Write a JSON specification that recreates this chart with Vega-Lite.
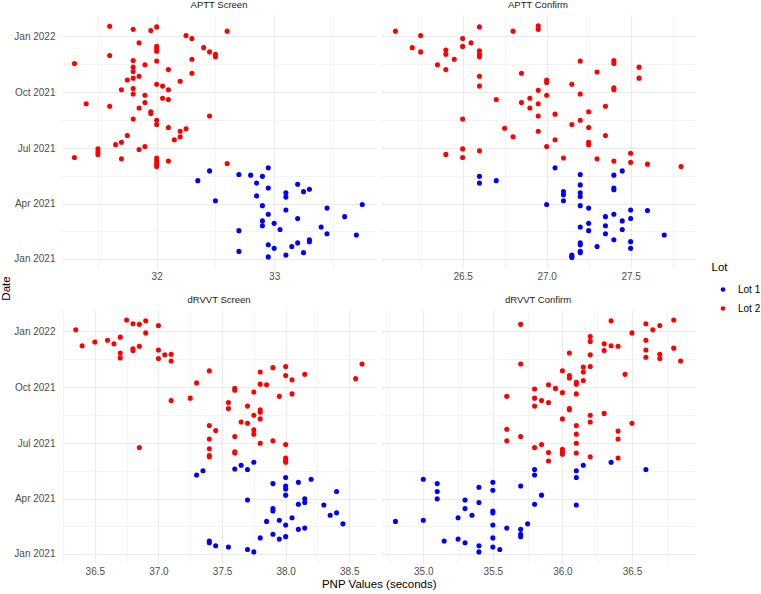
{
  "$schema": "https://vega.github.io/schema/vega-lite/v6.json",
  "padding": {"left": 0, "top": 0, "right": 0, "bottom": 0},
  "background": "white",
  "datasets": {
    "aptt_screen": [
      {"lot":"Lot 2","date":"2022-01-17","pnp":31.6},{"lot":"Lot 2","date":"2022-01-12","pnp":31.8},{"lot":"Lot 2","date":"2022-01-10","pnp":31.95},
      {"lot":"Lot 2","date":"2022-01-16","pnp":32.0},{"lot":"Lot 2","date":"2022-01-09","pnp":32.6},{"lot":"Lot 2","date":"2022-01-02","pnp":32.25},
      {"lot":"Lot 2","date":"2021-12-28","pnp":32.3},{"lot":"Lot 2","date":"2021-12-21","pnp":31.85},{"lot":"Lot 2","date":"2021-12-15","pnp":32.0},
      {"lot":"Lot 2","date":"2021-12-11","pnp":32.0},{"lot":"Lot 2","date":"2021-12-07","pnp":32.0},{"lot":"Lot 2","date":"2021-12-13","pnp":32.4},
      {"lot":"Lot 2","date":"2021-12-06","pnp":32.45},{"lot":"Lot 2","date":"2021-12-02","pnp":32.5},{"lot":"Lot 2","date":"2021-11-28","pnp":32.5},
      {"lot":"Lot 2","date":"2021-11-30","pnp":31.6},{"lot":"Lot 2","date":"2021-11-17","pnp":31.3},{"lot":"Lot 2","date":"2021-11-22","pnp":31.8},
      {"lot":"Lot 2","date":"2021-11-11","pnp":31.8},{"lot":"Lot 2","date":"2021-11-04","pnp":31.8},{"lot":"Lot 2","date":"2021-10-24","pnp":31.8},
      {"lot":"Lot 2","date":"2021-11-15","pnp":31.9},{"lot":"Lot 2","date":"2021-11-21","pnp":32.0},{"lot":"Lot 2","date":"2021-11-07","pnp":32.1},
      {"lot":"Lot 2","date":"2021-11-24","pnp":32.3},{"lot":"Lot 2","date":"2021-11-01","pnp":32.3},{"lot":"Lot 2","date":"2021-10-27","pnp":31.85},
      {"lot":"Lot 2","date":"2021-10-21","pnp":31.75},{"lot":"Lot 2","date":"2021-10-19","pnp":32.2},{"lot":"Lot 2","date":"2021-10-14","pnp":32.0},
      {"lot":"Lot 2","date":"2021-10-11","pnp":32.05},{"lot":"Lot 2","date":"2021-10-05","pnp":32.1},{"lot":"Lot 2","date":"2021-10-05","pnp":31.7},
      {"lot":"Lot 2","date":"2021-10-07","pnp":31.8},{"lot":"Lot 2","date":"2021-09-28","pnp":31.8},{"lot":"Lot 2","date":"2021-09-26","pnp":31.9},
      {"lot":"Lot 2","date":"2021-09-21","pnp":32.05},{"lot":"Lot 2","date":"2021-09-19","pnp":32.1},{"lot":"Lot 2","date":"2021-09-12","pnp":31.4},
      {"lot":"Lot 2","date":"2021-09-08","pnp":31.6},{"lot":"Lot 2","date":"2021-09-05","pnp":31.85},{"lot":"Lot 2","date":"2021-09-14","pnp":31.9},
      {"lot":"Lot 2","date":"2021-08-30","pnp":31.95},{"lot":"Lot 2","date":"2021-08-27","pnp":31.95},{"lot":"Lot 2","date":"2021-08-18","pnp":31.8},
      {"lot":"Lot 2","date":"2021-08-16","pnp":32.0},{"lot":"Lot 2","date":"2021-08-09","pnp":32.0},{"lot":"Lot 2","date":"2021-08-23","pnp":32.45},
      {"lot":"Lot 2","date":"2021-08-04","pnp":32.1},{"lot":"Lot 2","date":"2021-08-02","pnp":32.25},{"lot":"Lot 2","date":"2021-07-29","pnp":32.2},
      {"lot":"Lot 2","date":"2021-07-20","pnp":32.2},{"lot":"Lot 2","date":"2021-07-15","pnp":32.15},{"lot":"Lot 2","date":"2021-07-22","pnp":31.75},
      {"lot":"Lot 2","date":"2021-07-11","pnp":31.7},{"lot":"Lot 2","date":"2021-07-07","pnp":31.65},{"lot":"Lot 2","date":"2021-07-04","pnp":31.9},
      {"lot":"Lot 2","date":"2021-06-29","pnp":31.85},{"lot":"Lot 2","date":"2021-06-30","pnp":31.5},{"lot":"Lot 2","date":"2021-06-25","pnp":31.5},
      {"lot":"Lot 2","date":"2021-06-21","pnp":31.5},{"lot":"Lot 2","date":"2021-06-16","pnp":31.3},{"lot":"Lot 2","date":"2021-06-14","pnp":31.7},
      {"lot":"Lot 2","date":"2021-06-15","pnp":32.0},{"lot":"Lot 2","date":"2021-06-10","pnp":32.0},{"lot":"Lot 2","date":"2021-06-05","pnp":32.0},
      {"lot":"Lot 2","date":"2021-06-01","pnp":32.0},{"lot":"Lot 2","date":"2021-06-10","pnp":32.1},{"lot":"Lot 2","date":"2021-06-06","pnp":32.6},
      {"lot":"Lot 1","date":"2021-05-30","pnp":32.95},{"lot":"Lot 1","date":"2021-05-19","pnp":32.7},{"lot":"Lot 1","date":"2021-05-18","pnp":32.8},
      {"lot":"Lot 1","date":"2021-05-16","pnp":32.9},{"lot":"Lot 1","date":"2021-05-25","pnp":32.45},{"lot":"Lot 1","date":"2021-05-09","pnp":32.35},
      {"lot":"Lot 1","date":"2021-05-05","pnp":32.85},{"lot":"Lot 1","date":"2021-04-27","pnp":32.95},{"lot":"Lot 1","date":"2021-05-03","pnp":33.2},
      {"lot":"Lot 1","date":"2021-04-25","pnp":33.3},{"lot":"Lot 1","date":"2021-04-21","pnp":33.25},{"lot":"Lot 1","date":"2021-04-19","pnp":33.1},
      {"lot":"Lot 1","date":"2021-04-12","pnp":33.1},{"lot":"Lot 1","date":"2021-04-14","pnp":32.85},{"lot":"Lot 1","date":"2021-04-06","pnp":32.5},
      {"lot":"Lot 1","date":"2021-03-29","pnp":32.9},{"lot":"Lot 1","date":"2021-03-31","pnp":33.75},{"lot":"Lot 1","date":"2021-03-25","pnp":33.45},
      {"lot":"Lot 1","date":"2021-03-22","pnp":33.1},{"lot":"Lot 1","date":"2021-03-15","pnp":32.95},{"lot":"Lot 1","date":"2021-03-11","pnp":33.6},
      {"lot":"Lot 1","date":"2021-03-08","pnp":33.2},{"lot":"Lot 1","date":"2021-03-04","pnp":32.9},{"lot":"Lot 1","date":"2021-02-28","pnp":33.0},
      {"lot":"Lot 1","date":"2021-02-24","pnp":32.9},{"lot":"Lot 1","date":"2021-02-18","pnp":33.05},{"lot":"Lot 1","date":"2021-02-16","pnp":32.7},
      {"lot":"Lot 1","date":"2021-02-22","pnp":33.4},{"lot":"Lot 1","date":"2021-02-11","pnp":33.45},{"lot":"Lot 1","date":"2021-02-09","pnp":33.7},
      {"lot":"Lot 1","date":"2021-02-01","pnp":33.3},{"lot":"Lot 1","date":"2021-01-29","pnp":33.3},{"lot":"Lot 1","date":"2021-01-27","pnp":33.2},
      {"lot":"Lot 1","date":"2021-01-21","pnp":33.15},{"lot":"Lot 1","date":"2021-01-24","pnp":32.95},{"lot":"Lot 1","date":"2021-01-18","pnp":33.0},
      {"lot":"Lot 1","date":"2021-01-13","pnp":32.7},{"lot":"Lot 1","date":"2021-01-11","pnp":33.25},{"lot":"Lot 1","date":"2021-01-07","pnp":33.1},
      {"lot":"Lot 1","date":"2021-01-04","pnp":32.95}
    ],
    "aptt_confirm": [
      {"lot":"Lot 2","date":"2022-01-09","pnp":26.1},{"lot":"Lot 2","date":"2022-01-02","pnp":26.25},{"lot":"Lot 2","date":"2022-01-16","pnp":26.6},
      {"lot":"Lot 2","date":"2022-01-09","pnp":26.8},{"lot":"Lot 2","date":"2022-01-18","pnp":26.95},{"lot":"Lot 2","date":"2022-01-12","pnp":26.95},
      {"lot":"Lot 2","date":"2021-12-28","pnp":26.5},{"lot":"Lot 2","date":"2021-12-21","pnp":26.55},{"lot":"Lot 2","date":"2021-12-15","pnp":26.5},
      {"lot":"Lot 2","date":"2021-12-13","pnp":26.2},{"lot":"Lot 2","date":"2021-12-06","pnp":26.25},{"lot":"Lot 2","date":"2021-12-09","pnp":26.4},
      {"lot":"Lot 2","date":"2021-12-02","pnp":26.4},{"lot":"Lot 2","date":"2021-12-08","pnp":26.6},{"lot":"Lot 2","date":"2021-12-02","pnp":26.6},
      {"lot":"Lot 2","date":"2021-11-28","pnp":26.6},{"lot":"Lot 2","date":"2021-11-24","pnp":26.45},{"lot":"Lot 2","date":"2021-11-15","pnp":26.35},
      {"lot":"Lot 2","date":"2021-11-07","pnp":26.4},{"lot":"Lot 2","date":"2021-11-21","pnp":27.2},{"lot":"Lot 2","date":"2021-11-22","pnp":27.4},
      {"lot":"Lot 2","date":"2021-11-17","pnp":27.4},{"lot":"Lot 2","date":"2021-11-11","pnp":27.55},{"lot":"Lot 2","date":"2021-11-03","pnp":27.3},
      {"lot":"Lot 2","date":"2021-11-01","pnp":26.85},{"lot":"Lot 2","date":"2021-10-27","pnp":26.6},{"lot":"Lot 2","date":"2021-10-21","pnp":27.0},
      {"lot":"Lot 2","date":"2021-10-17","pnp":27.0},{"lot":"Lot 2","date":"2021-10-24","pnp":27.55},{"lot":"Lot 2","date":"2021-10-14","pnp":27.15},
      {"lot":"Lot 2","date":"2021-10-11","pnp":26.6},{"lot":"Lot 2","date":"2021-10-08","pnp":27.4},{"lot":"Lot 2","date":"2021-10-05","pnp":27.4},
      {"lot":"Lot 2","date":"2021-10-04","pnp":26.95},{"lot":"Lot 2","date":"2021-09-28","pnp":27.2},{"lot":"Lot 2","date":"2021-09-26","pnp":27.0},
      {"lot":"Lot 2","date":"2021-09-19","pnp":26.7},{"lot":"Lot 2","date":"2021-09-21","pnp":26.9},{"lot":"Lot 2","date":"2021-09-14","pnp":26.85},
      {"lot":"Lot 2","date":"2021-09-12","pnp":26.95},{"lot":"Lot 2","date":"2021-09-05","pnp":26.9},{"lot":"Lot 2","date":"2021-09-08","pnp":27.35},
      {"lot":"Lot 2","date":"2021-08-30","pnp":27.25},{"lot":"Lot 2","date":"2021-08-26","pnp":27.05},{"lot":"Lot 2","date":"2021-08-23","pnp":26.95},
      {"lot":"Lot 2","date":"2021-08-18","pnp":26.5},{"lot":"Lot 2","date":"2021-08-16","pnp":27.2},{"lot":"Lot 2","date":"2021-08-09","pnp":27.15},
      {"lot":"Lot 2","date":"2021-08-04","pnp":27.25},{"lot":"Lot 2","date":"2021-08-03","pnp":26.75},{"lot":"Lot 2","date":"2021-07-29","pnp":26.95},
      {"lot":"Lot 2","date":"2021-07-20","pnp":26.8},{"lot":"Lot 2","date":"2021-07-22","pnp":27.35},{"lot":"Lot 2","date":"2021-07-15","pnp":27.05},
      {"lot":"Lot 2","date":"2021-07-11","pnp":27.25},{"lot":"Lot 2","date":"2021-07-07","pnp":27.25},{"lot":"Lot 2","date":"2021-07-04","pnp":27.0},
      {"lot":"Lot 2","date":"2021-06-30","pnp":26.5},{"lot":"Lot 2","date":"2021-06-27","pnp":26.6},{"lot":"Lot 2","date":"2021-06-21","pnp":26.4},
      {"lot":"Lot 2","date":"2021-06-16","pnp":26.5},{"lot":"Lot 2","date":"2021-06-15","pnp":27.1},{"lot":"Lot 2","date":"2021-06-14","pnp":27.3},
      {"lot":"Lot 2","date":"2021-06-23","pnp":27.5},{"lot":"Lot 2","date":"2021-06-10","pnp":27.4},{"lot":"Lot 2","date":"2021-06-08","pnp":27.5},
      {"lot":"Lot 2","date":"2021-06-05","pnp":27.6},{"lot":"Lot 2","date":"2021-06-01","pnp":27.8},
      {"lot":"Lot 1","date":"2021-05-30","pnp":27.05},{"lot":"Lot 1","date":"2021-05-16","pnp":26.6},{"lot":"Lot 1","date":"2021-05-05","pnp":26.6},
      {"lot":"Lot 1","date":"2021-05-09","pnp":26.7},{"lot":"Lot 1","date":"2021-05-19","pnp":27.2},{"lot":"Lot 1","date":"2021-05-18","pnp":27.4},
      {"lot":"Lot 1","date":"2021-05-25","pnp":27.45},{"lot":"Lot 1","date":"2021-05-02","pnp":27.2},{"lot":"Lot 1","date":"2021-04-27","pnp":27.4},
      {"lot":"Lot 1","date":"2021-04-24","pnp":27.4},{"lot":"Lot 1","date":"2021-04-21","pnp":27.1},{"lot":"Lot 1","date":"2021-04-16","pnp":27.1},
      {"lot":"Lot 1","date":"2021-04-06","pnp":27.1},{"lot":"Lot 1","date":"2021-04-19","pnp":27.2},{"lot":"Lot 1","date":"2021-04-13","pnp":27.2},
      {"lot":"Lot 1","date":"2021-03-31","pnp":27.0},{"lot":"Lot 1","date":"2021-03-29","pnp":27.2},{"lot":"Lot 1","date":"2021-03-25","pnp":27.25},
      {"lot":"Lot 1","date":"2021-03-22","pnp":27.5},{"lot":"Lot 1","date":"2021-03-21","pnp":27.6},{"lot":"Lot 1","date":"2021-03-15","pnp":27.4},
      {"lot":"Lot 1","date":"2021-03-11","pnp":27.35},{"lot":"Lot 1","date":"2021-03-08","pnp":27.5},{"lot":"Lot 1","date":"2021-03-04","pnp":27.45},
      {"lot":"Lot 1","date":"2021-02-28","pnp":27.25},{"lot":"Lot 1","date":"2021-02-22","pnp":27.2},{"lot":"Lot 1","date":"2021-02-24","pnp":27.35},
      {"lot":"Lot 1","date":"2021-02-16","pnp":27.25},{"lot":"Lot 1","date":"2021-02-18","pnp":27.45},{"lot":"Lot 1","date":"2021-02-11","pnp":27.35},
      {"lot":"Lot 1","date":"2021-02-09","pnp":27.7},{"lot":"Lot 1","date":"2021-02-01","pnp":27.4},{"lot":"Lot 1","date":"2021-01-29","pnp":27.5},
      {"lot":"Lot 1","date":"2021-01-27","pnp":27.2},{"lot":"Lot 1","date":"2021-01-24","pnp":27.2},{"lot":"Lot 1","date":"2021-01-21","pnp":27.3},
      {"lot":"Lot 1","date":"2021-01-18","pnp":27.5},{"lot":"Lot 1","date":"2021-01-13","pnp":27.2},{"lot":"Lot 1","date":"2021-01-11","pnp":27.2},
      {"lot":"Lot 1","date":"2021-01-07","pnp":27.15},{"lot":"Lot 1","date":"2021-01-05","pnp":27.15},{"lot":"Lot 1","date":"2021-01-03","pnp":27.15}
    ],
    "drvvt_screen": [
      {"lot":"Lot 2","date":"2022-01-03","pnp":36.35},{"lot":"Lot 2","date":"2021-12-08","pnp":36.4},{"lot":"Lot 2","date":"2021-12-14","pnp":36.5},
      {"lot":"Lot 2","date":"2021-12-17","pnp":36.6},{"lot":"Lot 2","date":"2021-12-11","pnp":36.65},{"lot":"Lot 2","date":"2021-12-22","pnp":36.7},
      {"lot":"Lot 2","date":"2022-01-19","pnp":36.75},{"lot":"Lot 2","date":"2022-01-13","pnp":36.8},{"lot":"Lot 2","date":"2022-01-12","pnp":36.85},
      {"lot":"Lot 2","date":"2022-01-18","pnp":36.9},{"lot":"Lot 2","date":"2021-12-29","pnp":36.9},{"lot":"Lot 2","date":"2022-01-10","pnp":37.0},
      {"lot":"Lot 2","date":"2021-12-07","pnp":36.85},{"lot":"Lot 2","date":"2021-12-03","pnp":36.8},{"lot":"Lot 2","date":"2021-11-30","pnp":36.8},
      {"lot":"Lot 2","date":"2021-11-26","pnp":36.7},{"lot":"Lot 2","date":"2021-11-18","pnp":36.7},{"lot":"Lot 2","date":"2021-12-01","pnp":37.0},
      {"lot":"Lot 2","date":"2021-11-17","pnp":37.0},{"lot":"Lot 2","date":"2021-11-23","pnp":37.05},{"lot":"Lot 2","date":"2021-11-24","pnp":37.1},
      {"lot":"Lot 2","date":"2021-11-13","pnp":37.1},{"lot":"Lot 2","date":"2021-10-28","pnp":37.4},{"lot":"Lot 2","date":"2021-10-08","pnp":37.3},
      {"lot":"Lot 2","date":"2021-09-09","pnp":37.1},{"lot":"Lot 2","date":"2021-09-13","pnp":37.25},{"lot":"Lot 2","date":"2021-09-29","pnp":37.6},
      {"lot":"Lot 2","date":"2021-09-26","pnp":37.6},{"lot":"Lot 2","date":"2021-09-06","pnp":37.55},{"lot":"Lot 2","date":"2021-08-27","pnp":37.55},
      {"lot":"Lot 2","date":"2021-08-31","pnp":37.7},{"lot":"Lot 2","date":"2021-09-23","pnp":37.75},{"lot":"Lot 2","date":"2021-10-26","pnp":37.8},
      {"lot":"Lot 2","date":"2021-10-06","pnp":37.8},{"lot":"Lot 2","date":"2021-10-05","pnp":37.85},{"lot":"Lot 2","date":"2021-11-02","pnp":37.9},
      {"lot":"Lot 2","date":"2021-11-04","pnp":38.0},{"lot":"Lot 2","date":"2021-10-20","pnp":38.0},{"lot":"Lot 2","date":"2021-10-13","pnp":38.05},
      {"lot":"Lot 2","date":"2021-10-22","pnp":38.15},{"lot":"Lot 2","date":"2021-09-16","pnp":37.95},{"lot":"Lot 2","date":"2021-09-20","pnp":38.05},
      {"lot":"Lot 2","date":"2021-10-15","pnp":38.55},{"lot":"Lot 2","date":"2021-11-08","pnp":38.6},{"lot":"Lot 2","date":"2021-08-25","pnp":37.8},
      {"lot":"Lot 2","date":"2021-08-21","pnp":37.8},{"lot":"Lot 2","date":"2021-08-10","pnp":37.8},{"lot":"Lot 2","date":"2021-08-16","pnp":37.75},
      {"lot":"Lot 2","date":"2021-08-05","pnp":37.65},{"lot":"Lot 2","date":"2021-08-03","pnp":37.7},{"lot":"Lot 2","date":"2021-07-23","pnp":37.75},
      {"lot":"Lot 2","date":"2021-07-16","pnp":37.75},{"lot":"Lot 2","date":"2021-07-30","pnp":37.4},{"lot":"Lot 2","date":"2021-07-22","pnp":37.45},
      {"lot":"Lot 2","date":"2021-07-12","pnp":37.6},{"lot":"Lot 2","date":"2021-07-08","pnp":37.4},{"lot":"Lot 2","date":"2021-06-22","pnp":37.4},
      {"lot":"Lot 2","date":"2021-06-11","pnp":37.4},{"lot":"Lot 2","date":"2021-06-09","pnp":37.4},{"lot":"Lot 2","date":"2021-06-17","pnp":37.6},
      {"lot":"Lot 2","date":"2021-06-15","pnp":37.6},{"lot":"Lot 2","date":"2021-07-01","pnp":37.8},{"lot":"Lot 2","date":"2021-07-05","pnp":37.9},
      {"lot":"Lot 2","date":"2021-06-29","pnp":38.0},{"lot":"Lot 2","date":"2021-06-07","pnp":38.0},{"lot":"Lot 2","date":"2021-06-03","pnp":38.0},
      {"lot":"Lot 2","date":"2021-05-31","pnp":38.0},{"lot":"Lot 2","date":"2021-06-24","pnp":36.85},
      {"lot":"Lot 1","date":"2021-05-31","pnp":37.75},{"lot":"Lot 1","date":"2021-05-26","pnp":37.65},{"lot":"Lot 1","date":"2021-05-20","pnp":37.6},
      {"lot":"Lot 1","date":"2021-05-19","pnp":37.7},{"lot":"Lot 1","date":"2021-05-17","pnp":37.35},{"lot":"Lot 1","date":"2021-05-10","pnp":37.3},
      {"lot":"Lot 1","date":"2021-05-06","pnp":38.0},{"lot":"Lot 1","date":"2021-05-03","pnp":38.2},{"lot":"Lot 1","date":"2021-04-28","pnp":38.1},
      {"lot":"Lot 1","date":"2021-04-26","pnp":37.9},{"lot":"Lot 1","date":"2021-04-22","pnp":38.0},{"lot":"Lot 1","date":"2021-04-17","pnp":38.0},
      {"lot":"Lot 1","date":"2021-04-07","pnp":38.0},{"lot":"Lot 1","date":"2021-04-13","pnp":38.4},{"lot":"Lot 1","date":"2021-03-30","pnp":37.7},
      {"lot":"Lot 1","date":"2021-04-01","pnp":38.15},{"lot":"Lot 1","date":"2021-03-26","pnp":38.15},{"lot":"Lot 1","date":"2021-03-23","pnp":38.1},
      {"lot":"Lot 1","date":"2021-03-22","pnp":38.3},{"lot":"Lot 1","date":"2021-03-16","pnp":37.9},{"lot":"Lot 1","date":"2021-03-12","pnp":37.9},
      {"lot":"Lot 1","date":"2021-03-05","pnp":38.35},{"lot":"Lot 1","date":"2021-03-09","pnp":38.4},{"lot":"Lot 1","date":"2021-03-01","pnp":38.05},
      {"lot":"Lot 1","date":"2021-02-25","pnp":37.95},{"lot":"Lot 1","date":"2021-02-23","pnp":37.85},{"lot":"Lot 1","date":"2021-02-19","pnp":38.45},
      {"lot":"Lot 1","date":"2021-02-17","pnp":38.0},{"lot":"Lot 1","date":"2021-02-12","pnp":38.15},{"lot":"Lot 1","date":"2021-02-10","pnp":38.1},
      {"lot":"Lot 1","date":"2021-02-02","pnp":37.9},{"lot":"Lot 1","date":"2021-01-29","pnp":38.0},{"lot":"Lot 1","date":"2021-01-25","pnp":37.95},
      {"lot":"Lot 1","date":"2021-01-27","pnp":37.8},{"lot":"Lot 1","date":"2021-01-22","pnp":37.4},{"lot":"Lot 1","date":"2021-01-19","pnp":37.4},
      {"lot":"Lot 1","date":"2021-01-14","pnp":37.45},{"lot":"Lot 1","date":"2021-01-12","pnp":37.55},{"lot":"Lot 1","date":"2021-01-08","pnp":37.7},
      {"lot":"Lot 1","date":"2021-01-04","pnp":37.75}
    ],
    "drvvt_confirm": [
      {"lot":"Lot 2","date":"2022-01-12","pnp":35.7},{"lot":"Lot 2","date":"2022-01-18","pnp":36.35},{"lot":"Lot 2","date":"2022-01-13","pnp":36.6},
      {"lot":"Lot 2","date":"2022-01-03","pnp":36.65},{"lot":"Lot 2","date":"2022-01-10","pnp":36.7},{"lot":"Lot 2","date":"2022-01-19","pnp":36.8},
      {"lot":"Lot 2","date":"2021-12-29","pnp":36.5},{"lot":"Lot 2","date":"2021-12-23","pnp":36.2},{"lot":"Lot 2","date":"2021-12-15","pnp":36.2},
      {"lot":"Lot 2","date":"2021-12-11","pnp":36.3},{"lot":"Lot 2","date":"2021-11-30","pnp":36.3},{"lot":"Lot 2","date":"2021-12-08","pnp":36.35},
      {"lot":"Lot 2","date":"2021-12-07","pnp":36.4},{"lot":"Lot 2","date":"2021-12-17","pnp":36.6},{"lot":"Lot 2","date":"2021-12-01","pnp":36.6},
      {"lot":"Lot 2","date":"2021-11-19","pnp":36.6},{"lot":"Lot 2","date":"2021-11-24","pnp":36.7},{"lot":"Lot 2","date":"2021-11-17","pnp":36.7},
      {"lot":"Lot 2","date":"2021-12-04","pnp":36.8},{"lot":"Lot 2","date":"2021-11-13","pnp":36.85},{"lot":"Lot 2","date":"2021-11-26","pnp":36.05},
      {"lot":"Lot 2","date":"2021-11-23","pnp":36.2},{"lot":"Lot 2","date":"2021-11-03","pnp":36.15},{"lot":"Lot 2","date":"2021-10-26","pnp":36.15},
      {"lot":"Lot 2","date":"2021-11-04","pnp":36.2},{"lot":"Lot 2","date":"2021-10-12","pnp":36.15},{"lot":"Lot 2","date":"2021-10-22","pnp":36.45},
      {"lot":"Lot 2","date":"2021-11-08","pnp":35.7},{"lot":"Lot 2","date":"2021-10-28","pnp":36.0},{"lot":"Lot 2","date":"2021-10-20","pnp":36.05},
      {"lot":"Lot 2","date":"2021-10-16","pnp":36.05},{"lot":"Lot 2","date":"2021-10-09","pnp":36.1},{"lot":"Lot 2","date":"2021-10-06","pnp":36.1},
      {"lot":"Lot 2","date":"2021-10-05","pnp":35.9},{"lot":"Lot 2","date":"2021-09-29","pnp":35.95},{"lot":"Lot 2","date":"2021-09-28","pnp":35.8},
      {"lot":"Lot 2","date":"2021-09-22","pnp":36.0},{"lot":"Lot 2","date":"2021-09-20","pnp":36.1},{"lot":"Lot 2","date":"2021-09-16","pnp":35.6},
      {"lot":"Lot 2","date":"2021-09-13","pnp":35.8},{"lot":"Lot 2","date":"2021-09-09","pnp":35.85},{"lot":"Lot 2","date":"2021-09-06","pnp":35.9},
      {"lot":"Lot 2","date":"2021-08-31","pnp":35.8},{"lot":"Lot 2","date":"2021-08-27","pnp":36.05},{"lot":"Lot 2","date":"2021-08-25","pnp":36.05},
      {"lot":"Lot 2","date":"2021-08-19","pnp":36.3},{"lot":"Lot 2","date":"2021-08-16","pnp":36.2},{"lot":"Lot 2","date":"2021-08-10","pnp":36.0},
      {"lot":"Lot 2","date":"2021-08-05","pnp":36.2},{"lot":"Lot 2","date":"2021-08-03","pnp":36.5},{"lot":"Lot 2","date":"2021-07-30","pnp":36.1},
      {"lot":"Lot 2","date":"2021-07-21","pnp":36.4},{"lot":"Lot 2","date":"2021-07-08","pnp":36.4},{"lot":"Lot 2","date":"2021-07-24","pnp":35.6},
      {"lot":"Lot 2","date":"2021-07-12","pnp":35.7},{"lot":"Lot 2","date":"2021-07-05","pnp":35.6},{"lot":"Lot 2","date":"2021-07-16","pnp":36.1},
      {"lot":"Lot 2","date":"2021-07-01","pnp":36.1},{"lot":"Lot 2","date":"2021-06-29","pnp":35.85},{"lot":"Lot 2","date":"2021-06-24","pnp":35.8},
      {"lot":"Lot 2","date":"2021-06-21","pnp":36.0},{"lot":"Lot 2","date":"2021-06-17","pnp":36.0},{"lot":"Lot 2","date":"2021-06-13","pnp":36.0},
      {"lot":"Lot 2","date":"2021-06-16","pnp":35.9},{"lot":"Lot 2","date":"2021-06-02","pnp":35.9},{"lot":"Lot 2","date":"2021-06-15","pnp":36.1},
      {"lot":"Lot 2","date":"2021-06-09","pnp":36.2},{"lot":"Lot 2","date":"2021-06-07","pnp":36.4},
      {"lot":"Lot 1","date":"2021-05-31","pnp":36.35},{"lot":"Lot 1","date":"2021-05-19","pnp":36.6},{"lot":"Lot 1","date":"2021-05-26","pnp":36.15},
      {"lot":"Lot 1","date":"2021-05-17","pnp":36.1},{"lot":"Lot 1","date":"2021-05-06","pnp":36.1},{"lot":"Lot 1","date":"2021-05-19","pnp":35.8},
      {"lot":"Lot 1","date":"2021-05-10","pnp":35.8},{"lot":"Lot 1","date":"2021-04-07","pnp":35.85},{"lot":"Lot 1","date":"2021-03-23","pnp":35.8},
      {"lot":"Lot 1","date":"2021-03-22","pnp":36.1},{"lot":"Lot 1","date":"2021-04-22","pnp":35.7},{"lot":"Lot 1","date":"2021-04-28","pnp":35.5},
      {"lot":"Lot 1","date":"2021-04-15","pnp":35.5},{"lot":"Lot 1","date":"2021-04-20","pnp":35.4},{"lot":"Lot 1","date":"2021-05-03","pnp":35.0},
      {"lot":"Lot 1","date":"2021-04-26","pnp":35.1},{"lot":"Lot 1","date":"2021-04-13","pnp":35.1},{"lot":"Lot 1","date":"2021-04-01","pnp":35.1},
      {"lot":"Lot 1","date":"2021-03-30","pnp":35.3},{"lot":"Lot 1","date":"2021-03-26","pnp":35.4},{"lot":"Lot 1","date":"2021-03-16","pnp":35.3},
      {"lot":"Lot 1","date":"2021-03-12","pnp":35.5},{"lot":"Lot 1","date":"2021-03-09","pnp":35.5},{"lot":"Lot 1","date":"2021-03-05","pnp":35.35},
      {"lot":"Lot 1","date":"2021-03-01","pnp":35.25},{"lot":"Lot 1","date":"2021-02-23","pnp":34.8},{"lot":"Lot 1","date":"2021-02-25","pnp":35.0},
      {"lot":"Lot 1","date":"2021-02-19","pnp":35.75},{"lot":"Lot 1","date":"2021-02-17","pnp":35.5},{"lot":"Lot 1","date":"2021-02-12","pnp":35.6},
      {"lot":"Lot 1","date":"2021-02-10","pnp":35.7},{"lot":"Lot 1","date":"2021-02-02","pnp":35.7},{"lot":"Lot 1","date":"2021-01-29","pnp":35.7},
      {"lot":"Lot 1","date":"2021-01-27","pnp":35.5},{"lot":"Lot 1","date":"2021-01-22","pnp":35.15},{"lot":"Lot 1","date":"2021-01-25","pnp":35.25},
      {"lot":"Lot 1","date":"2021-01-19","pnp":35.3},{"lot":"Lot 1","date":"2021-01-14","pnp":35.4},{"lot":"Lot 1","date":"2021-01-12","pnp":35.5},
      {"lot":"Lot 1","date":"2021-01-08","pnp":35.55},{"lot":"Lot 1","date":"2021-01-04","pnp":35.4}
    ]
  },
  "columns": 2,
  "bounds": "flush",
  "spacing": {"row": 41, "column": 5},
  "concat": [
    {
      "data": {"name": "aptt_screen"},
      "title": {"text": "APTT Screen"},
      "width": 314, "height": 253.5,
      "mark": {"type": "circle", "size": 26, "opacity": 1},
      "encoding": {
        "x": {"field": "pnp", "type": "quantitative",
              "scale": {"domain": [31.194, 33.867], "nice": false, "zero": false},
              "axis": {"title": null, "values": [31.5, 32, 32.5, 33, 33.5],
                       "labelExpr": "datum.value % 1 == 0 ? format(datum.value, 'd') : ''",
                       "gridWidth": {"condition": {"test": "datum.value % 1 == 0", "value": 1.1}, "value": 0.55}}},
        "y": {"field": "date", "type": "temporal",
              "scale": {"domain": [{"year": 2020, "month": 12, "date": 16}, {"year": 2022, "month": 2, "date": 4, "hours": 12}]},
              "axis": {"title": "Date", "titleX": -52.5, "titleY": 273, "titleBaseline": "alphabetic", "titleAngle": 270,
                       "values": [{"year": 2021, "month": 1, "date": 1}, {"year": 2021, "month": 2, "date": 15}, {"year": 2021, "month": 4, "date": 1},
                                  {"year": 2021, "month": 5, "date": 16}, {"year": 2021, "month": 7, "date": 1}, {"year": 2021, "month": 8, "date": 16},
                                  {"year": 2021, "month": 10, "date": 1}, {"year": 2021, "month": 11, "date": 16}, {"year": 2022, "month": 1, "date": 1}],
                       "labelExpr": "date(datum.value) == 1 ? timeFormat(datum.value, '%b %Y') : ''",
                       "labelPadding": 7,
                       "gridWidth": {"condition": {"test": "date(datum.value) == 1", "value": 1.1}, "value": 0.55}}},
        "color": {"field": "lot", "type": "nominal", "title": "Lot",
                  "scale": {"domain": ["Lot 1", "Lot 2"], "range": ["#0000FF", "#FF0000"]},
                  "legend": {"orient": "none", "legendX": 649.5, "legendY": 247}}
      }
    },
    {
      "data": {"name": "aptt_confirm"},
      "title": {"text": "APTT Confirm"},
      "width": 314, "height": 253.5,
      "mark": {"type": "circle", "size": 26, "opacity": 1},
      "encoding": {
        "x": {"field": "pnp", "type": "quantitative",
              "scale": {"domain": [26.014, 27.883], "nice": false, "zero": false},
              "axis": {"title": null, "values": [26.25, 26.5, 26.75, 27, 27.25, 27.5, 27.75],
                       "labelExpr": "datum.value % 0.5 == 0 ? format(datum.value, '.1f') : ''",
                       "gridWidth": {"condition": {"test": "datum.value % 0.5 == 0", "value": 1.1}, "value": 0.55}}},
        "y": {"field": "date", "type": "temporal",
              "scale": {"domain": [{"year": 2020, "month": 12, "date": 16}, {"year": 2022, "month": 2, "date": 4, "hours": 12}]},
              "axis": {"title": null, "labels": false,
                       "values": [{"year": 2021, "month": 1, "date": 1}, {"year": 2021, "month": 2, "date": 15}, {"year": 2021, "month": 4, "date": 1},
                                  {"year": 2021, "month": 5, "date": 16}, {"year": 2021, "month": 7, "date": 1}, {"year": 2021, "month": 8, "date": 16},
                                  {"year": 2021, "month": 10, "date": 1}, {"year": 2021, "month": 11, "date": 16}, {"year": 2022, "month": 1, "date": 1}],
                       "gridWidth": {"condition": {"test": "date(datum.value) == 1", "value": 1.1}, "value": 0.55}}},
        "color": {"field": "lot", "type": "nominal", "title": "Lot",
                  "scale": {"domain": ["Lot 1", "Lot 2"], "range": ["#0000FF", "#FF0000"]},
                  "legend": {"orient": "none", "legendX": 649.5, "legendY": 247}}
      }
    },
    {
      "data": {"name": "drvvt_screen"},
      "title": {"text": "dRVVT Screen"},
      "width": 314, "height": 253.5,
      "mark": {"type": "circle", "size": 26, "opacity": 1},
      "encoding": {
        "x": {"field": "pnp", "type": "quantitative",
              "scale": {"domain": [36.242, 38.71], "nice": false, "zero": false},
              "axis": {"title": "PNP Values (seconds)", "titleX": 316.75, "titleY": 23.5, "titleBaseline": "alphabetic",
                       "values": [36.25, 36.5, 36.75, 37, 37.25, 37.5, 37.75, 38, 38.25, 38.5],
                       "labelExpr": "datum.value % 0.5 == 0 ? format(datum.value, '.1f') : ''",
                       "gridWidth": {"condition": {"test": "datum.value % 0.5 == 0", "value": 1.1}, "value": 0.55}}},
        "y": {"field": "date", "type": "temporal",
              "scale": {"domain": [{"year": 2020, "month": 12, "date": 16}, {"year": 2022, "month": 2, "date": 4, "hours": 12}]},
              "axis": {"title": null,
                       "values": [{"year": 2021, "month": 1, "date": 1}, {"year": 2021, "month": 2, "date": 15}, {"year": 2021, "month": 4, "date": 1},
                                  {"year": 2021, "month": 5, "date": 16}, {"year": 2021, "month": 7, "date": 1}, {"year": 2021, "month": 8, "date": 16},
                                  {"year": 2021, "month": 10, "date": 1}, {"year": 2021, "month": 11, "date": 16}, {"year": 2022, "month": 1, "date": 1}],
                       "labelExpr": "date(datum.value) == 1 ? timeFormat(datum.value, '%b %Y') : ''",
                       "labelPadding": 7,
                       "gridWidth": {"condition": {"test": "date(datum.value) == 1", "value": 1.1}, "value": 0.55}}},
        "color": {"field": "lot", "type": "nominal", "title": "Lot",
                  "scale": {"domain": ["Lot 1", "Lot 2"], "range": ["#0000FF", "#FF0000"]},
                  "legend": {"orient": "none", "legendX": 649.5, "legendY": 247}}
      }
    },
    {
      "data": {"name": "drvvt_confirm"},
      "title": {"text": "dRVVT Confirm"},
      "width": 314, "height": 253.5,
      "mark": {"type": "circle", "size": 26, "opacity": 1},
      "encoding": {
        "x": {"field": "pnp", "type": "quantitative",
              "scale": {"domain": [34.696, 36.953], "nice": false, "zero": false},
              "axis": {"title": null, "values": [34.75, 35, 35.25, 35.5, 35.75, 36, 36.25, 36.5, 36.75],
                       "labelExpr": "datum.value % 0.5 == 0 ? format(datum.value, '.1f') : ''",
                       "gridWidth": {"condition": {"test": "datum.value % 0.5 == 0", "value": 1.1}, "value": 0.55}}},
        "y": {"field": "date", "type": "temporal",
              "scale": {"domain": [{"year": 2020, "month": 12, "date": 16}, {"year": 2022, "month": 2, "date": 4, "hours": 12}]},
              "axis": {"title": null, "labels": false,
                       "values": [{"year": 2021, "month": 1, "date": 1}, {"year": 2021, "month": 2, "date": 15}, {"year": 2021, "month": 4, "date": 1},
                                  {"year": 2021, "month": 5, "date": 16}, {"year": 2021, "month": 7, "date": 1}, {"year": 2021, "month": 8, "date": 16},
                                  {"year": 2021, "month": 10, "date": 1}, {"year": 2021, "month": 11, "date": 16}, {"year": 2022, "month": 1, "date": 1}],
                       "gridWidth": {"condition": {"test": "date(datum.value) == 1", "value": 1.1}, "value": 0.55}}},
        "color": {"field": "lot", "type": "nominal", "title": "Lot",
                  "scale": {"domain": ["Lot 1", "Lot 2"], "range": ["#0000FF", "#FF0000"]},
                  "legend": {"orient": "none", "legendX": 649.5, "legendY": 247}}
      }
    }
  ],
  "config": {
    "view": {"stroke": null},
    "font": "Liberation Sans",
    "axis": {
      "domain": false, "ticks": false,
      "gridColor": "#EBEBEB",
      "labelColor": "#4D4D4D", "labelFont": "Liberation Sans", "labelFontSize": 10,
      "labelOverlap": false, "labelFlush": false,
      "titleFont": "Liberation Sans", "titleFontSize": 11.5, "titleFontWeight": "normal", "titleColor": "#000000"
    },
    "axisX": {"labelPadding": 3},
    "title": {"font": "Liberation Sans", "fontSize": 9.5, "fontWeight": "normal", "color": "#1A1A1A",
              "anchor": "middle", "baseline": "alphabetic", "offset": 5.5},
    "legend": {
      "titleFont": "Liberation Sans", "titleFontSize": 11.5, "titleFontWeight": "normal", "titleColor": "#000000",
      "labelFont": "Liberation Sans", "labelFontSize": 10, "labelColor": "#000000",
      "symbolType": "circle", "symbolSize": 22, "symbolStrokeWidth": 0, "symbolOpacity": 1,
      "symbolOffset": 6.5, "labelOffset": 10, "titlePadding": 11, "rowPadding": 9, "padding": 0
    }
  }
}
